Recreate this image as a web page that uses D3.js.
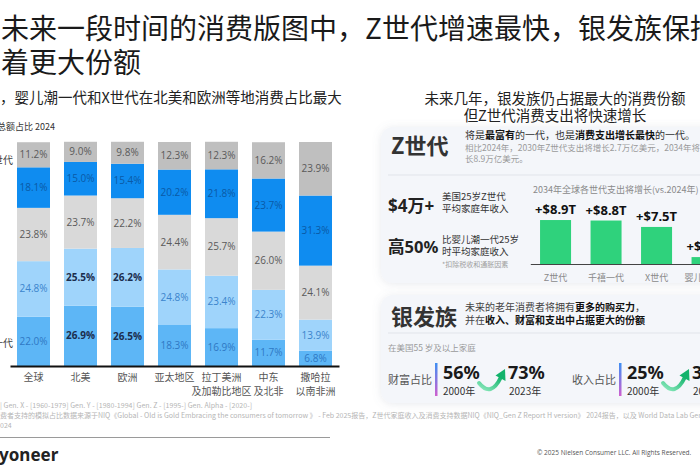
<!DOCTYPE html>
<html>
<head>
<meta charset="utf-8">
<script src="https://cdn.jsdelivr.net/npm/d3@7"></script>
<style>
  body { margin: 0; background: #fff; }
  svg { display: block; font-family: "Noto Sans CJK SC", "Noto Sans", sans-serif; }
</style>
</head>
<body>
<div id="chart"></div>
<script>
// left chart: share of total spending by generation, 2024
const regions = ["全球", "北美", "欧洲", "亚太地区", "拉丁美洲\n及加勒比地区", "中东\n及北非", "撒哈拉\n以南非洲"];
const generations = ["婴儿潮一代", "X世代", "千禧一代", "Z世代", "Alpha世代"];
const boomerShare = [22.0, 26.9, 26.5, 18.3, 16.9, 11.7, 6.8];
const genXShare = [24.8, 25.5, 26.2, 24.8, 23.4, 22.3, 13.9];
const genYShare = [23.8, 23.7, 22.2, 24.4, 25.7, 26.0, 24.1];
const genZShare = [18.1, 15.0, 15.4, 20.2, 21.8, 23.7, 31.3];
const alphaShare = [11.2, 9.0, 9.8, 12.3, 12.3, 16.2, 23.9];

// right chart: spending growth 2034 vs 2024 (trillion USD)
const growthGens = ["Z世代", "千禧一代", "X世代", "婴儿潮一代"];
const growthT = [8.9, 8.8, 7.5, 1.4];

// silver generation stats
const statLabels = ["财富占比", "收入占比"];
const stat2000 = ["56%", "25%"];
const stat2023 = ["73%", "32%"];

const W = 700, H = 470;
const svg = d3.select("#chart").append("svg").attr("width", W).attr("height", H);
svg.append("rect").attr("width", W).attr("height", H).attr("fill", "#fff");

const defs = svg.append("defs");
const shadow = defs.append("filter").attr("id", "shadow").attr("x", "-10%").attr("y", "-10%").attr("width", "130%").attr("height", "130%");
shadow.append("feDropShadow").attr("dx", 0).attr("dy", 1).attr("stdDeviation", 4)
    .attr("flood-color", "#7a869a").attr("flood-opacity", 0.18);
const barGrad = defs.append("linearGradient").attr("id", "statbar").attr("x1", 0).attr("y1", 0).attr("x2", 0).attr("y2", 1);
barGrad.append("stop").attr("offset", "0%").attr("stop-color", "#3d8ff2");
barGrad.append("stop").attr("offset", "100%").attr("stop-color", "#cf5fcf");
const arrowGrad = defs.append("linearGradient").attr("id", "arrowg").attr("x1", 0).attr("y1", 1).attr("x2", 1).attr("y2", 0);
arrowGrad.append("stop").attr("offset", "0%").attr("stop-color", "#8ce9bd");
arrowGrad.append("stop").attr("offset", "100%").attr("stop-color", "#12b36b");

// titles
svg.append("text").attr("x", 1).attr("y", 39).attr("font-size", 28).attr("fill", "#1a1a1a")
    .text("未来一段时间的消费版图中，Z世代增速最快，银发族保持");
svg.append("text").attr("x", 1).attr("y", 73).attr("font-size", 28).attr("fill", "#1a1a1a")
    .text("着更大份额");

svg.append("text").attr("x", 0).attr("y", 103).attr("font-size", 14.5).attr("fill", "#222")
    .text("，婴儿潮一代和X世代在北美和欧洲等地消费占比最大");
svg.append("text").attr("x", -3).attr("y", 130).attr("font-size", 9).attr("fill", "#333")
    .text("总额占比   2024");

// ---- stacked bars
const table = regions.map(function (r, i) {
    const row = {region: r};
    [boomerShare, genXShare, genYShare, genZShare, alphaShare].forEach(function (arr, k) {
        row[generations[k]] = arr[i];
    });
    return row;
});
const stacked = d3.stack().keys(generations)(table);

const segColor = {"婴儿潮一代": "#5db6f6", "X世代": "#9fd4fb", "千禧一代": "#d9d9d9", "Z世代": "#0f8cf0", "Alpha世代": "#bfbfbf"};
const segText = {"婴儿潮一代": "#2f78c4", "X世代": "#3b84cc", "千禧一代": "#5a5a5a", "Z世代": "#0a5aa6", "Alpha世代": "#5a5a5a"};

const x = d3.scaleBand().domain(regions).range([10, 339]).paddingInner(0.298).paddingOuter(0.149);
const y = d3.scaleLinear().domain([0, 100]).range([366, 142]);

const layers = svg.append("g").selectAll("g").data(stacked).join("g")
    .attr("fill", function (d) { return segColor[d.key]; });
layers.selectAll("rect").data(function (d) { return d; }).join("rect")
    .attr("x", function (d) { return x(d.data.region); })
    .attr("y", function (d) { return y(d[1]); })
    .attr("width", x.bandwidth())
    .attr("height", function (d) { return y(d[0]) - y(d[1]); });

layers.each(function (layer) {
    const key = layer.key;
    d3.select(this).selectAll("text").data(layer).join("text")
        .attr("x", function (d) { return x(d.data.region) + x.bandwidth() / 2; })
        .attr("y", function (d) { return (y(d[0]) + y(d[1])) / 2 + 3.5; })
        .attr("text-anchor", "middle")
        .attr("font-family", "'Open Sans', 'Noto Sans', sans-serif")
        .attr("font-size", 10)
        .each(function (d) {
            const strong = (key === "婴儿潮一代" || key === "X世代") &&
                (d.data.region === "北美" || d.data.region === "欧洲");
            d3.select(this).attr("fill", strong ? "#1b2d4d" : segText[key])
                .attr("font-weight", strong ? 700 : 400);
        })
        .text(function (d) { return d.data[key].toFixed(1) + "%"; });
});

const xAxis = svg.append("g").attr("transform", "translate(0,366)")
    .call(d3.axisBottom(x).tickSize(0).tickSizeOuter(0));
xAxis.attr("font-family", null);
xAxis.select(".domain").attr("stroke", "#111").attr("stroke-width", 2);
xAxis.selectAll(".tick text").attr("fill", "#555").attr("font-size", 10).attr("dy", 0).attr("y", 0)
    .each(function (d) {
        const t = d3.select(this).text("");
        d.split("\n").forEach(function (line, i) {
            t.append("tspan").attr("x", 0).attr("y", 15 + i * 14).text(line);
        });
    });

// clipped series names at the left edge
svg.append("text").attr("x", 13).attr("y", 164).attr("text-anchor", "end").attr("font-size", 10).attr("fill", "#444").text("Alpha世代");
svg.append("text").attr("x", 13).attr("y", 347).attr("text-anchor", "end").attr("font-size", 10).attr("fill", "#444").text("婴儿潮一代");

// footnotes
const foot = svg.append("g").attr("font-size", 7).attr("fill", "#b5b5b5");
foot.append("text").attr("x", 0).attr("y", 408).attr("textLength", 252)
    .text("| Gen. X - [1960-1979] Gen. Y - [1980-1994] Gen. Z - [1995-] Gen. Alpha - [2020-]");
foot.append("text").attr("x", 0).attr("y", 418)
    .text("费者支持的模拟占比数据来源于NIQ《Global - Old is Gold Embracing the consumers of tomorrow 》 - Feb 2025报告，Z世代家庭收入及消费支持数据NIQ《NIQ_Gen Z Report H version》 2024报告，以及 World Data Lab Gen");
foot.append("text").attr("x", 0).attr("y", 428).text("024");
svg.append("line").attr("x1", 0).attr("x2", 330).attr("y1", 437.5).attr("y2", 437.5).attr("stroke", "#9a9a9a").attr("stroke-width", 1);
svg.append("text").attr("x", -1).attr("y", 461).attr("font-family", "'Noto Sans', sans-serif")
    .attr("font-size", 17).attr("font-weight", 700).attr("fill", "#222").text("yoneer");
svg.append("text").attr("x", 537).attr("y", 455).attr("font-size", 6.5).attr("fill", "#555")
    .attr("font-family", "'Open Sans', sans-serif").text("© 2025 Nielsen Consumer LLC. All Rights Reserved.");

// ---- right panel
svg.append("text").attr("x", 555).attr("y", 104).attr("text-anchor", "middle").attr("font-size", 14.5).attr("fill", "#222")
    .text("未来几年，银发族仍占据最大的消费份额");
svg.append("text").attr("x", 555).attr("y", 121).attr("text-anchor", "middle").attr("font-size", 14.5).attr("fill", "#222")
    .text("但Z世代消费支出将快速增长");

svg.append("rect").attr("x", 381).attr("y", 127).attr("width", 340).attr("height", 156).attr("rx", 12)
    .attr("fill", "#f4f6fa").attr("filter", "url(#shadow)");
svg.append("rect").attr("x", 381).attr("y", 295).attr("width", 340).attr("height", 108).attr("rx", 12)
    .attr("fill", "#f4f6fa").attr("filter", "url(#shadow)");

svg.append("text").attr("x", 391).attr("y", 154).attr("font-size", 22).attr("font-weight", 700).attr("fill", "#333").text("Z世代");
const zLead = svg.append("text").attr("x", 465).attr("y", 139).attr("font-size", 10).attr("fill", "#333");
zLead.append("tspan").text("将是");
zLead.append("tspan").attr("font-weight", 700).attr("fill", "#111").text("最富有");
zLead.append("tspan").text("的一代，也是");
zLead.append("tspan").attr("font-weight", 700).attr("fill", "#111").text("消费支出增长最快");
zLead.append("tspan").text("的一代。");
svg.append("text").attr("x", 465).attr("y", 151).attr("font-size", 8.5).attr("fill", "#9a9a9a")
    .text("相比2024年，2030年Z世代支出将增长2.7万亿美元，2034年将增");
svg.append("text").attr("x", 465).attr("y", 162).attr("font-size", 8.5).attr("fill", "#9a9a9a").text("长8.9万亿美元。");
svg.append("line").attr("x1", 388).attr("x2", 700).attr("y1", 175).attr("y2", 175).attr("stroke", "#e1e4ea");

const bigFont = "'Noto Sans', 'Noto Sans CJK SC', sans-serif";
svg.append("text").attr("x", 388).attr("y", 212).attr("font-family", bigFont).attr("font-size", 17)
    .attr("font-weight", 700).attr("fill", "#222").text("$4万+");
svg.append("text").attr("x", 442).attr("y", 200).attr("font-size", 9.5).attr("fill", "#333").text("美国25岁Z世代");
svg.append("text").attr("x", 442).attr("y", 212).attr("font-size", 9.5).attr("fill", "#333").text("平均家庭年收入");
svg.append("text").attr("x", 388).attr("y", 253).attr("font-family", bigFont).attr("font-size", 16.5)
    .attr("font-weight", 700).attr("fill", "#222").text("高50%");
svg.append("text").attr("x", 442).attr("y", 243).attr("font-size", 9.5).attr("fill", "#333").text("比婴儿潮一代25岁");
svg.append("text").attr("x", 442).attr("y", 255).attr("font-size", 9.5).attr("fill", "#333").text("时平均家庭收入");
svg.append("text").attr("x", 442).attr("y", 267).attr("font-size", 7).attr("fill", "#a0a0a0").text("*扣除税收和通胀因素");

svg.append("text").attr("x", 533).attr("y", 193).attr("font-size", 9).attr("fill", "#8a8a8a").text("2034年全球各世代支出将增长(vs.2024年)");

const gx = d3.scaleBand().domain(growthGens).range([530.3, 732.3]).paddingInner(0.386).paddingOuter(0.193);
const gy = d3.scaleLinear().domain([0, 10]).range([264, 214.6]);
svg.append("g").selectAll("rect").data(growthT).join("rect")
    .attr("x", function (d, i) { return gx(growthGens[i]); })
    .attr("y", function (d) { return gy(d); })
    .attr("width", gx.bandwidth())
    .attr("height", function (d) { return gy(0) - gy(d); })
    .attr("fill", "#2fd27c");
svg.append("g").selectAll("text").data(growthT).join("text")
    .attr("x", function (d, i) { return gx(growthGens[i]) + gx.bandwidth() / 2; })
    .attr("y", function (d) { return gy(d) - 6; })
    .attr("text-anchor", "middle")
    .attr("font-family", "'Noto Sans', sans-serif").attr("font-size", 13).attr("font-weight", 700).attr("fill", "#111")
    .text(function (d) { return "+$" + d.toFixed(1) + "T"; });
const gAxis = svg.append("g").attr("transform", "translate(0,264)")
    .call(d3.axisBottom(gx).tickSize(0).tickSizeOuter(0));
gAxis.attr("font-family", null);
gAxis.select(".domain").attr("stroke", "#444").attr("stroke-width", 1.2);
gAxis.selectAll(".tick text").attr("fill", "#8a8a8a").attr("font-size", 9).attr("dy", 0).attr("y", 17);

// silver generation card
svg.append("text").attr("x", 391).attr("y", 325).attr("font-size", 22).attr("font-weight", 700).attr("fill", "#333").text("银发族");
const sl1 = svg.append("text").attr("x", 465).attr("y", 311).attr("font-size", 10).attr("fill", "#444");
sl1.append("tspan").text("未来的老年消费者将拥有");
sl1.append("tspan").attr("font-weight", 700).attr("fill", "#111").text("更多的购买力");
sl1.append("tspan").text("，");
const sl2 = svg.append("text").attr("x", 465).attr("y", 324).attr("font-size", 10).attr("fill", "#444");
sl2.append("tspan").text("并在");
sl2.append("tspan").attr("font-weight", 700).attr("fill", "#111").text("收入、财富和支出中占据更大的份额");
svg.append("line").attr("x1", 388).attr("x2", 700).attr("y1", 333).attr("y2", 333).attr("stroke", "#e1e4ea");
svg.append("text").attr("x", 388).attr("y", 351).attr("font-size", 8.5).attr("fill", "#9a9a9a").text("在美国55 岁及以上家庭");

const statX = [388, 572];
statLabels.forEach(function (label, i) {
    const g = svg.append("g").attr("transform", "translate(" + statX[i] + ",0)");
    g.append("text").attr("x", 0).attr("y", 384).attr("font-size", 11).attr("fill", "#555").text(label);
    g.append("rect").attr("x", 47).attr("y", 363).attr("width", 2.5).attr("height", 33).attr("fill", "url(#statbar)");
    g.append("text").attr("x", 55).attr("y", 379).attr("font-family", "'Noto Sans', sans-serif")
        .attr("font-size", 18).attr("font-weight", 700).attr("fill", "#1a1a1a").text(stat2000[i]);
    g.append("text").attr("x", 55).attr("y", 395).attr("font-size", 10).attr("fill", "#333").text("2000年");
    g.append("path").attr("d", "M91,383 Q103,398 113,377").attr("fill", "none")
        .attr("stroke", "url(#arrowg)").attr("stroke-width", 4).attr("stroke-linecap", "round");
    g.append("path").attr("d", "M117,369 L117.5,381 L107.5,375.5 Z").attr("fill", "#12b36b");
    g.append("text").attr("x", 120).attr("y", 379).attr("font-family", "'Noto Sans', sans-serif")
        .attr("font-size", 18).attr("font-weight", 700).attr("fill", "#1a1a1a").text(stat2023[i]);
    g.append("text").attr("x", 121).attr("y", 395).attr("font-size", 10).attr("fill", "#333").text("2023年");
});
</script>
</body>
</html>
